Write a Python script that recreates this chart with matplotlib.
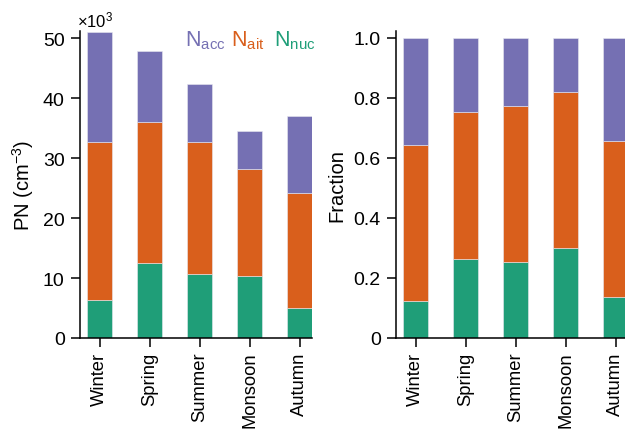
import numpy as np
import matplotlib
matplotlib.use('Agg')
from matplotlib import pyplot as plt

plt.rcParams.update({
    'font.family': ['Liberation Sans', 'DejaVu Sans'],
    'mathtext.fontset': 'custom',
    'mathtext.rm': 'Liberation Sans',
    'mathtext.it': 'Liberation Sans:italic',
    'font.size': 14,
})

COLORS = {'nuc': '#1f9e78', 'ait': '#d95f1c', 'acc': '#7570b3'}

seasons = ['Winter', 'Spring', 'Summer', 'Monsoon', 'Autumn']
# particle number concentration, x10^3 cm^-3
n_nuc = np.array([6.3, 12.5, 10.7, 10.3, 5.0])
n_ait = np.array([26.4, 23.5, 22.0, 17.9, 19.2])
n_acc = np.array([18.3, 11.8, 9.6, 6.3, 12.8])

total = n_nuc + n_ait + n_acc
f_nuc = n_nuc / total
f_ait = n_ait / total
f_acc = n_acc / total

fig = plt.figure(figsize=(6.25, 4.31), dpi=100)
ax1 = fig.add_axes([0.128, 0.2135, 0.3712, 0.712])
ax2 = fig.add_axes([0.6336, 0.2142, 0.3712, 0.7116])

x = np.arange(len(seasons))
bar_kw = dict(width=0.5, edgecolor='#e8e8f0', linewidth=0.4, zorder=2)

for ax, parts in [(ax1, (n_nuc, n_ait, n_acc)), (ax2, (f_nuc, f_ait, f_acc))]:
    bottom = np.zeros(len(seasons))
    for vals, key in zip(parts, ['nuc', 'ait', 'acc']):
        ax.bar(x, vals, bottom=bottom, color=COLORS[key], **bar_kw)
        bottom = bottom + vals
    ax.set_xticks(x)
    ax.set_xticklabels(seasons, rotation=90, fontsize=13.2)
    ax.set_xlim(-0.39, 4.25)
    for side in ['top', 'right']:
        ax.spines[side].set_visible(False)
    for side in ['left', 'bottom']:
        ax.spines[side].set_linewidth(1.1)
    ax.tick_params(direction='out', length=6.5, width=1.1, pad=4.5)
    ax.tick_params(axis='x', pad=3.5)

ax1.set_ylim(0, 51.2)
ax1.set_yticks([0, 10, 20, 30, 40, 50])
ax1.set_ylabel('PN (cm$^{-3}$)', fontsize=14.5, labelpad=5)
ax1.text(-0.012, 1.016, '×10$^{3}$', transform=ax1.transAxes, fontsize=12,
         ha='left', va='baseline')

ax2.set_ylim(0, 1.022)
ax2.set_yticks([0, 0.2, 0.4, 0.6, 0.8, 1.0])
ax2.set_yticklabels(['0', '0.2', '0.4', '0.6', '0.8', '1.0'])
ax2.set_ylabel('Fraction', fontsize=14.5, labelpad=5)

# colored text legend
for xpos, lab, key in [(0.452, 'acc', 'acc'), (0.652, 'ait', 'ait'), (0.835, 'nuc', 'nuc')]:
    ax1.text(xpos, 1.01, r'N$_{\mathrm{%s}}$' % lab, transform=ax1.transAxes,
             color=COLORS[key], fontsize=15.5, ha='left', va='top', zorder=5)

fig.savefig('out.png', dpi=100, facecolor='white')
